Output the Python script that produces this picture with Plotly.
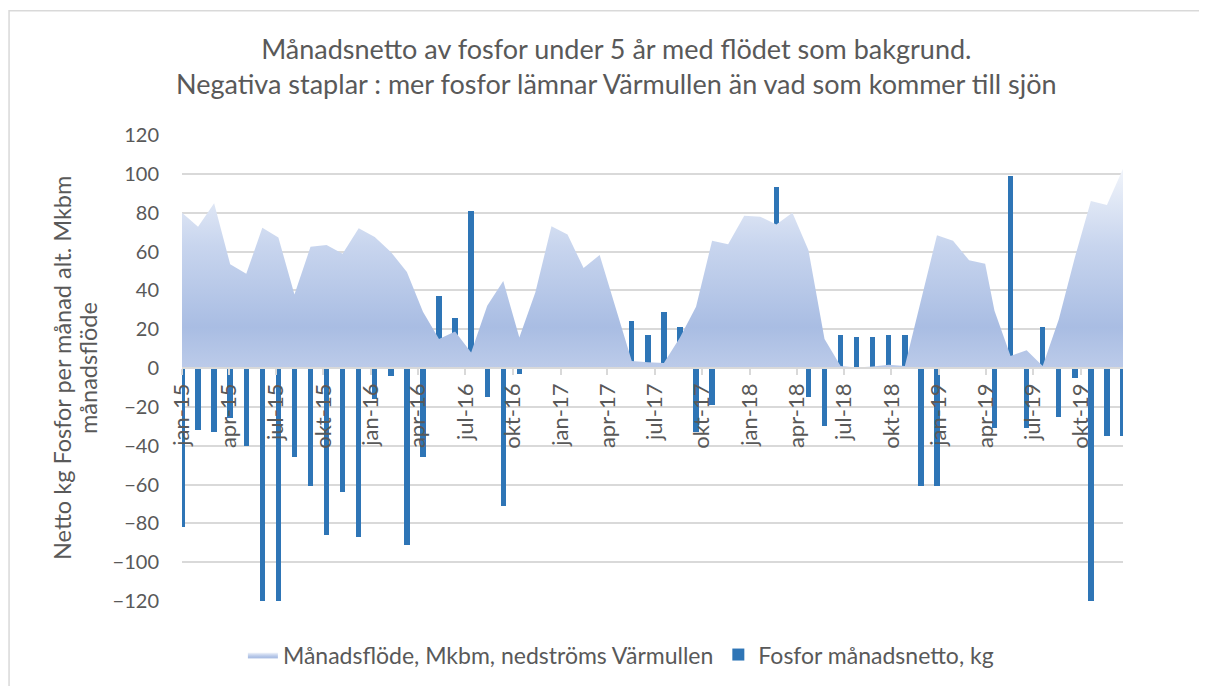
import plotly.graph_objects as go

# Observation dates (as positioned on the reference's date axis)
dates = ["2015-01-01", "2015-02-01", "2015-03-04", "2015-04-04", "2015-05-05", "2015-06-05",
         "2015-07-06", "2015-08-06", "2015-09-06", "2015-10-07", "2015-11-07", "2015-12-08",
         "2016-01-08", "2016-02-08", "2016-03-10", "2016-04-10", "2016-05-11", "2016-06-11",
         "2016-07-12", "2016-08-12", "2016-09-12", "2016-10-13", "2016-11-13", "2016-12-14",
         "2017-01-14", "2017-02-14", "2017-03-17", "2017-04-17", "2017-05-18", "2017-06-18",
         "2017-07-19", "2017-08-19", "2017-09-19", "2017-10-20", "2017-11-20", "2017-12-21",
         "2018-01-21", "2018-02-21", "2018-03-24", "2018-04-24", "2018-05-25", "2018-06-25",
         "2018-07-26", "2018-08-26", "2018-09-26", "2018-10-27", "2018-11-27", "2018-12-28",
         "2019-01-28", "2019-02-28", "2019-03-31", "2019-04-18", "2019-05-19", "2019-06-19",
         "2019-07-20", "2019-08-20", "2019-09-20", "2019-10-21", "2019-11-21", "2019-12-22"]

# Månadsflöde, Mkbm
flow = [80, 72.7, 84.8, 53.4, 48.5, 72.2, 67.2, 37.8, 62.4, 63.4, 58.9, 72,
        67.5, 59.8, 49.4, 29, 14.9, 18.8, 8, 32.1, 44.8, 15.7, 39, 73,
        68.7, 51.5, 58.2, 31.3, 3.6, 3, 2.6, 15.7, 31.6, 65.5, 63.7, 78.4,
        77.9, 73.9, 80, 60.6, 14.9, 1, 0.2, 0.8, 1.7, 1, 34, 68.4,
        65.5, 55.5, 53.7, 29.5, 6.2, 9.2, 1, 25, 56.8, 86, 84, 102.6]

# Fosfor månadsnetto, kg
net_p = [-82, -32, -33, -26, -40, -130, -130, -46, -61, -86, -64, -87,
         -16, -4, -91, -46, 37, 26, 81, -15, -71, -3, 14, 49,
         27, 22, 32, 27, 24, 17, 29, 21, -33, -19, 24, 59,
         77, 93, 13, -15, -30, 17, 16, 16, 17, 17, -61, -61,
         12, 47, 26, -31, 99, -31, 21, -25, -5, -125, -35, -35]

tick_vals = ["2015-01-01", "2015-04-01", "2015-07-01", "2015-10-01",
             "2016-01-01", "2016-04-01", "2016-07-01", "2016-10-01",
             "2017-01-01", "2017-04-01", "2017-07-01", "2017-10-01",
             "2018-01-01", "2018-04-01", "2018-07-01", "2018-10-01",
             "2019-01-01", "2019-04-01", "2019-07-01", "2019-10-01"]
tick_text = ["jan-15", "apr-15", "jul-15", "okt-15",
             "jan-16", "apr-16", "jul-16", "okt-16",
             "jan-17", "apr-17", "jul-17", "okt-17",
             "jan-18", "apr-18", "jul-18", "okt-18",
             "jan-19", "apr-19", "jul-19", "okt-19"]

y_title_lines = ["Netto kg Fosfor per månad alt. Mkbm", "månadsflöde"]

FONT = "Lato"
TXT = "#595959"
GRID = "#d9d9d9"

fig = go.Figure()
fig.add_trace(go.Scatter(
    x=dates, y=flow, mode="lines", name="Månadsflöde, Mkbm, nedströms Värmullen",
    line=dict(width=0, color="#b4c6e7"), fill="tozeroy",
    fillgradient=dict(type="vertical", start=0, stop=105,
                      colorscale=[[0, "#bccbe9"], [0.2, "#a9bde3"], [0.6, "#c8d5ee"], [1, "#f3f6fb"]]),
))
fig.add_trace(go.Bar(
    x=dates, y=net_p, name="Fosfor månadsnetto, kg",
    marker=dict(color="#2e75b6", line=dict(width=0)), width=9.0e8,
))

fig.update_layout(
    width=1207, height=686,
    margin=dict(l=174, r=92, t=127, b=93),
    paper_bgcolor="white", plot_bgcolor="white",
    font=dict(family=FONT, color=TXT, size=20),
    title=dict(text="Månadsnetto av fosfor under 5 år med flödet som bakgrund.<br>"
                    "Negativa staplar : mer fosfor lämnar Värmullen än vad som kommer till sjön",
               x=0.504, xanchor="center", y=0.926, yanchor="middle",
               font=dict(family=FONT, size=27, color=TXT)),
    showlegend=True,
    legend=dict(orientation="h", x=0.4664, xanchor="center", y=-0.115, yanchor="middle",
                font=dict(family=FONT, size=23, color=TXT), bgcolor="rgba(0,0,0,0)"),
    bargap=0,
)
fig.update_xaxes(
    type="date", range=["2015-01-01", "2019-12-22"],
    tickmode="array", tickvals=tick_vals, ticktext=tick_text, tickangle=-90,
    anchor="free", position=0.5,
    showline=True, linecolor=GRID, linewidth=1.5,
    ticks="outside", ticklen=6, tickcolor=GRID, tickwidth=1.5,
    showgrid=False, zeroline=False,
    tickfont=dict(family=FONT, size=22, color=TXT),
)
fig.update_yaxes(
    range=[-120, 120], dtick=20, tick0=0,
    showgrid=True, gridcolor=GRID, gridwidth=1.5,
    zeroline=False, showline=False,
    ticks="", ticklabelstandoff=22,
    tickfont=dict(family=FONT, size=20, color=TXT),
)
for xpos, line in zip([-0.1275, -0.0999], y_title_lines):
    fig.add_annotation(
        text=line, xref="paper", yref="paper", x=xpos, y=0.5,
        xanchor="center", yanchor="middle", textangle=-90, showarrow=False,
        font=dict(family=FONT, size=23.5, color=TXT),
    )
fig.add_shape(type="rect", xref="paper", yref="paper",
              x0=-0.1838, x1=1.1, y0=-0.2, y1=1.2666,
              line=dict(color=GRID, width=1.5), fillcolor="rgba(0,0,0,0)", layer="below")

fig.write_html("out.html")
